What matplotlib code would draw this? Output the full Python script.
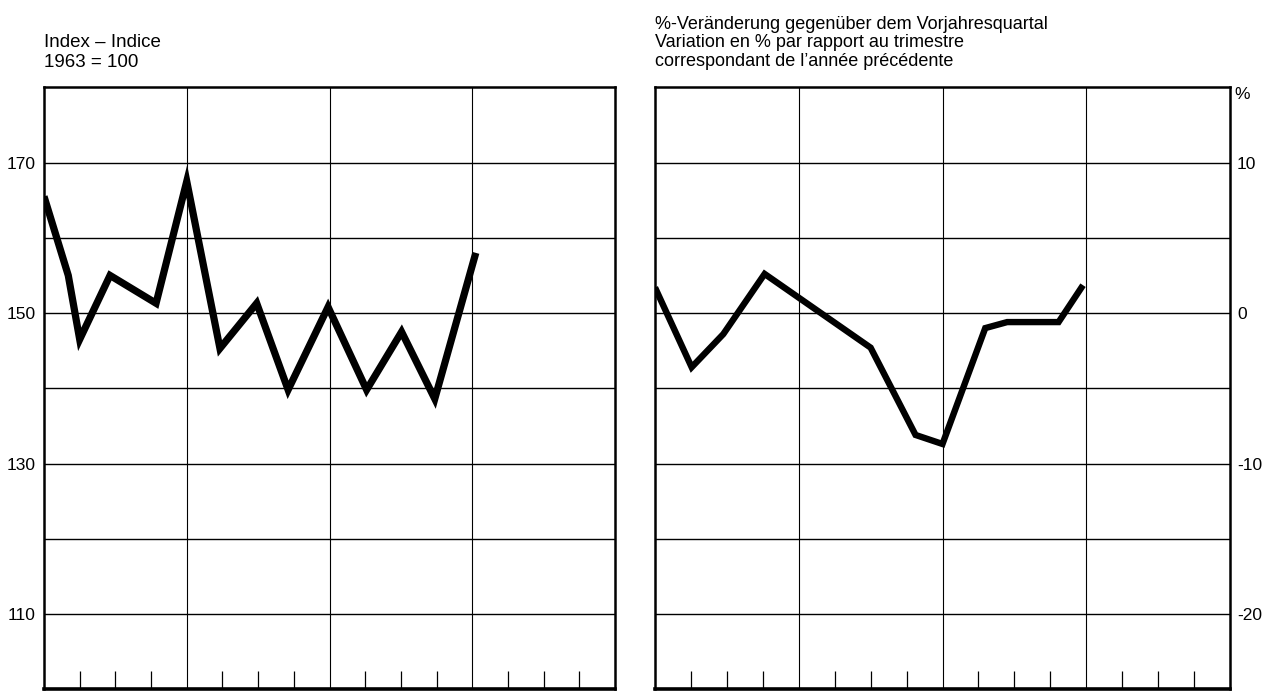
import numpy as np
import matplotlib
matplotlib.use('Agg')
import matplotlib.pyplot as plt

plt.rcParams['font.family'] = ['Liberation Sans', 'DejaVu Sans']

# left panel: index, 1963 = 100 (x in quarters from start of first year)
q_left = [0, 0.68, 1.0, 1.85, 3.14, 4.0, 4.93, 5.96, 6.84, 7.96, 9.04, 10.02, 10.95, 12.1]
idx_left = [165.5, 155.0, 146.5, 155.0, 151.3, 167.5, 145.3, 151.3, 139.8, 150.8, 139.8, 147.5, 138.6, 158.0]

# right panel: % change against same quarter of previous year
q_right = [0, 1.02, 1.9, 3.05, 6.0, 7.25, 8.0, 9.19, 9.8, 11.23, 11.91]
pct_right = [1.7, -3.6, -1.4, 2.6, -2.3, -8.1, -8.7, -1.0, -0.6, -0.6, 1.85]

left_labels = [110, 130, 150, 170]
left_minor = [120, 140, 160]
right_labels = [-20, -10, 0, 10]
right_minor = [-15, -5, 5]

title_left = 'Index \u2013 Indice\n1963 = 100'
title_right = ('%-Ver\u00e4nderung gegen\u00fcber dem Vorjahresquartal\n'
               'Variation en % par rapport au trimestre\n'
               'correspondant de l\u2019ann\u00e9e pr\u00e9c\u00e9dente')

W, H = 1279, 691


def frame(ax):
    ax.set_xlim(0, 16)
    ax.set_xticks([4, 8, 12])
    ax.set_xticks([q for q in range(1, 16) if q % 4], minor=True)
    ax.tick_params(axis='x', which='major', length=0, labelbottom=False)
    ax.tick_params(axis='x', which='minor', direction='in', length=13, width=0.9,
                   color='black', labelbottom=False)
    ax.grid(True, axis='x', which='major', color='black', lw=0.8)
    ax.grid(True, axis='y', which='both', color='black', lw=1.0)
    ax.tick_params(axis='y', which='both', length=0, labelsize=12.5)
    for s in ax.spines.values():
        s.set_linewidth(1.8)
    ax.spines['bottom'].set_linewidth(2.6)
    ax.set_axisbelow(True)


def main():
    fig = plt.figure(figsize=(W / 100, H / 100), dpi=100)

    axL = fig.add_axes([44 / W, 1.7 / H, 571 / W, 602 / H])
    frame(axL)
    axL.set_ylim(100, 180)
    axL.set_yticks(left_labels)
    axL.set_yticks(left_minor, minor=True)
    axL.set_yticklabels([str(v) for v in left_labels])
    axL.tick_params(axis='y', pad=6)
    axL.plot(q_left, idx_left, color='black', lw=5.2, solid_joinstyle='miter',
             solid_capstyle='butt', zorder=5)

    axR = fig.add_axes([655 / W, 1.7 / H, 575 / W, 602 / H])
    frame(axR)
    axR.set_ylim(-25, 15)
    axR.set_yticks(right_labels)
    axR.set_yticks(right_minor, minor=True)
    axR.set_yticklabels(['-20', '-10', '0', '10'])
    axR.yaxis.tick_right()
    axR.tick_params(axis='y', which='both', length=0, pad=5)
    axR.plot(q_right, pct_right, color='black', lw=4.6, solid_joinstyle='miter',
             solid_capstyle='butt', zorder=5)
    axR.text(1.008, 1.0, '%', transform=axR.transAxes, ha='left', va='top', fontsize=12.5)

    fig.text(44 / W, 1 - 34 / H, title_left, ha='left', va='top', fontsize=13.5,
             linespacing=1.2)
    fig.text(655 / W, 1 - 16 / H, title_right, ha='left', va='top', fontsize=13,
             linespacing=1.1)

    fig.savefig('out.png', dpi=100)


if __name__ == '__main__':
    main()
